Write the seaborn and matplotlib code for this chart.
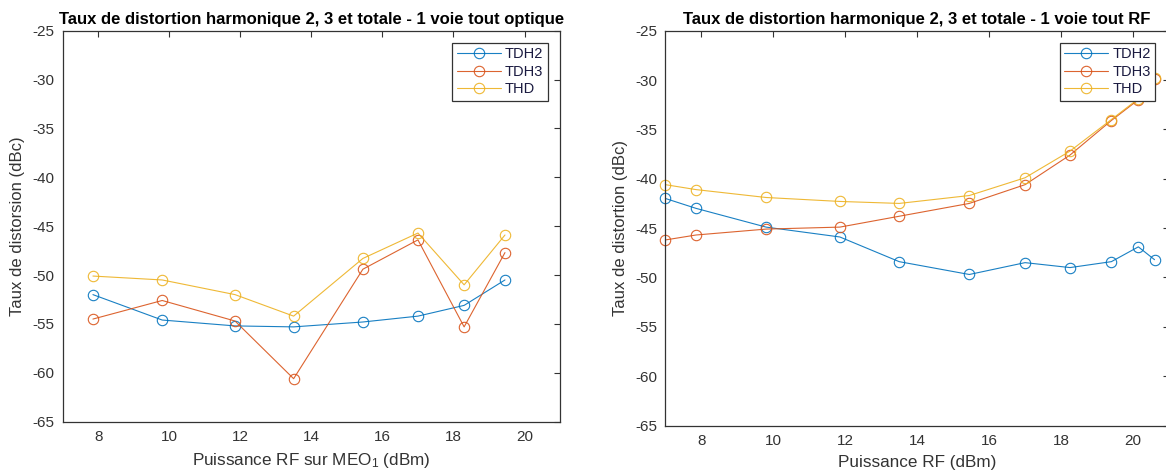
import matplotlib
matplotlib.use("Agg")
import matplotlib.pyplot as plt
import seaborn as sns
import pandas as pd

# values
series_names = ["TDH2", "TDH3", "THD"]
series_colors = ["#0072BD", "#D95319", "#EDB120"]

left_x = [7.85, 9.8, 11.85, 13.5, 15.45, 17.0, 18.3, 19.45]
left_tdh2 = [-52.0, -54.6, -55.2, -55.3, -54.8, -54.2, -53.1, -50.5]
left_tdh3 = [-54.5, -52.6, -54.7, -60.6, -49.4, -46.4, -55.3, -47.7]
left_thd = [-50.1, -50.5, -52.0, -54.2, -48.3, -45.7, -51.0, -45.9]

right_x = [7.0, 7.85, 9.8, 11.85, 13.5, 15.45, 17.0, 18.25, 19.4, 20.15, 20.6]
right_tdh2 = [-42.0, -43.0, -44.9, -45.9, -48.4, -49.7, -48.5, -49.0, -48.4, -46.9, -48.2]
right_tdh3 = [-46.2, -45.7, -45.1, -44.9, -43.8, -42.5, -40.6, -37.6, -34.1, -32.0, -29.9]
right_thd = [-40.6, -41.1, -41.9, -42.3, -42.5, -41.7, -39.9, -37.2, -34.0, -31.9, -29.8]

x_ticks = [8, 10, 12, 14, 16, 18, 20]
y_ticks = [-65, -60, -55, -50, -45, -40, -35, -30, -25]

sns.set_style("white")
plt.rcParams["font.family"] = ["Liberation Sans", "DejaVu Sans"]
plt.rcParams["mathtext.default"] = "regular"

dark = "#333333"

fig = plt.figure(figsize=(11.66, 4.75), dpi=100)
ax1 = fig.add_axes([0.0538, 0.1122, 0.4265, 0.8232])
ax2 = fig.add_axes([0.5707, 0.1042, 0.4318, 0.8312])


def draw(ax, x, ys, title, xlabel, ylabel, leg_anchor):
    for name, col, y in zip(series_names, series_colors, ys):
        df = pd.DataFrame({"x": x, "y": y})
        sns.lineplot(data=df, x="x", y="y", ax=ax, color=col, label=name,
                     marker="o", markersize=7.5, mfc="none", mec=col, mew=0.8,
                     linewidth=0.8, alpha=0.9, sort=False, clip_on=False)
    ax.set_xlim(7, 21)
    ax.set_ylim(-65, -25)
    ax.set_xticks(x_ticks)
    ax.set_yticks(y_ticks)
    ax.set_yticklabels([str(v) for v in y_ticks])
    ax.tick_params(direction="in", top=True, right=True, length=4, width=0.8,
                   color=dark, labelcolor=dark, labelsize=11, pad=6)
    for sp in ax.spines.values():
        sp.set_color(dark)
        sp.set_linewidth(0.9)
    ax.set_title(title, fontsize=12, fontweight="bold", color="black", pad=5)
    ax.set_xlabel(xlabel, fontsize=12.3, color=dark, labelpad=5)
    ax.set_ylabel(ylabel, fontsize=12, color=dark, labelpad=5)
    leg = ax.legend(loc="upper right", bbox_to_anchor=leg_anchor, borderaxespad=0,
                    fontsize=10.5, frameon=True, fancybox=False, framealpha=1,
                    edgecolor=dark, handlelength=3.0, handletextpad=0.3,
                    labelspacing=0.25, borderpad=0.3)
    leg.get_frame().set_linewidth(0.9)
    for t in leg.get_texts():
        t.set_color("#1a1a40")


draw(ax1, left_x, [left_tdh2, left_tdh3, left_thd],
     "Taux de distortion harmonique 2, 3 et totale - 1 voie tout optique",
     "Puissance RF sur MEO$_1$ (dBm)", "Taux de distorsion (dBc)",
     (1 - 12.3 / 497.3, 1 - 12 / 391))
draw(ax2, right_x, [right_tdh2, right_tdh3, right_thd],
     "Taux de distortion harmonique 2, 3 et totale - 1 voie tout RF",
     "Puissance RF (dBm)", "Taux de distortion (dBc)",
     (1 - 14 / 503.5, 1 - 12 / 394.8))

fig.savefig("out.png", dpi=100)
